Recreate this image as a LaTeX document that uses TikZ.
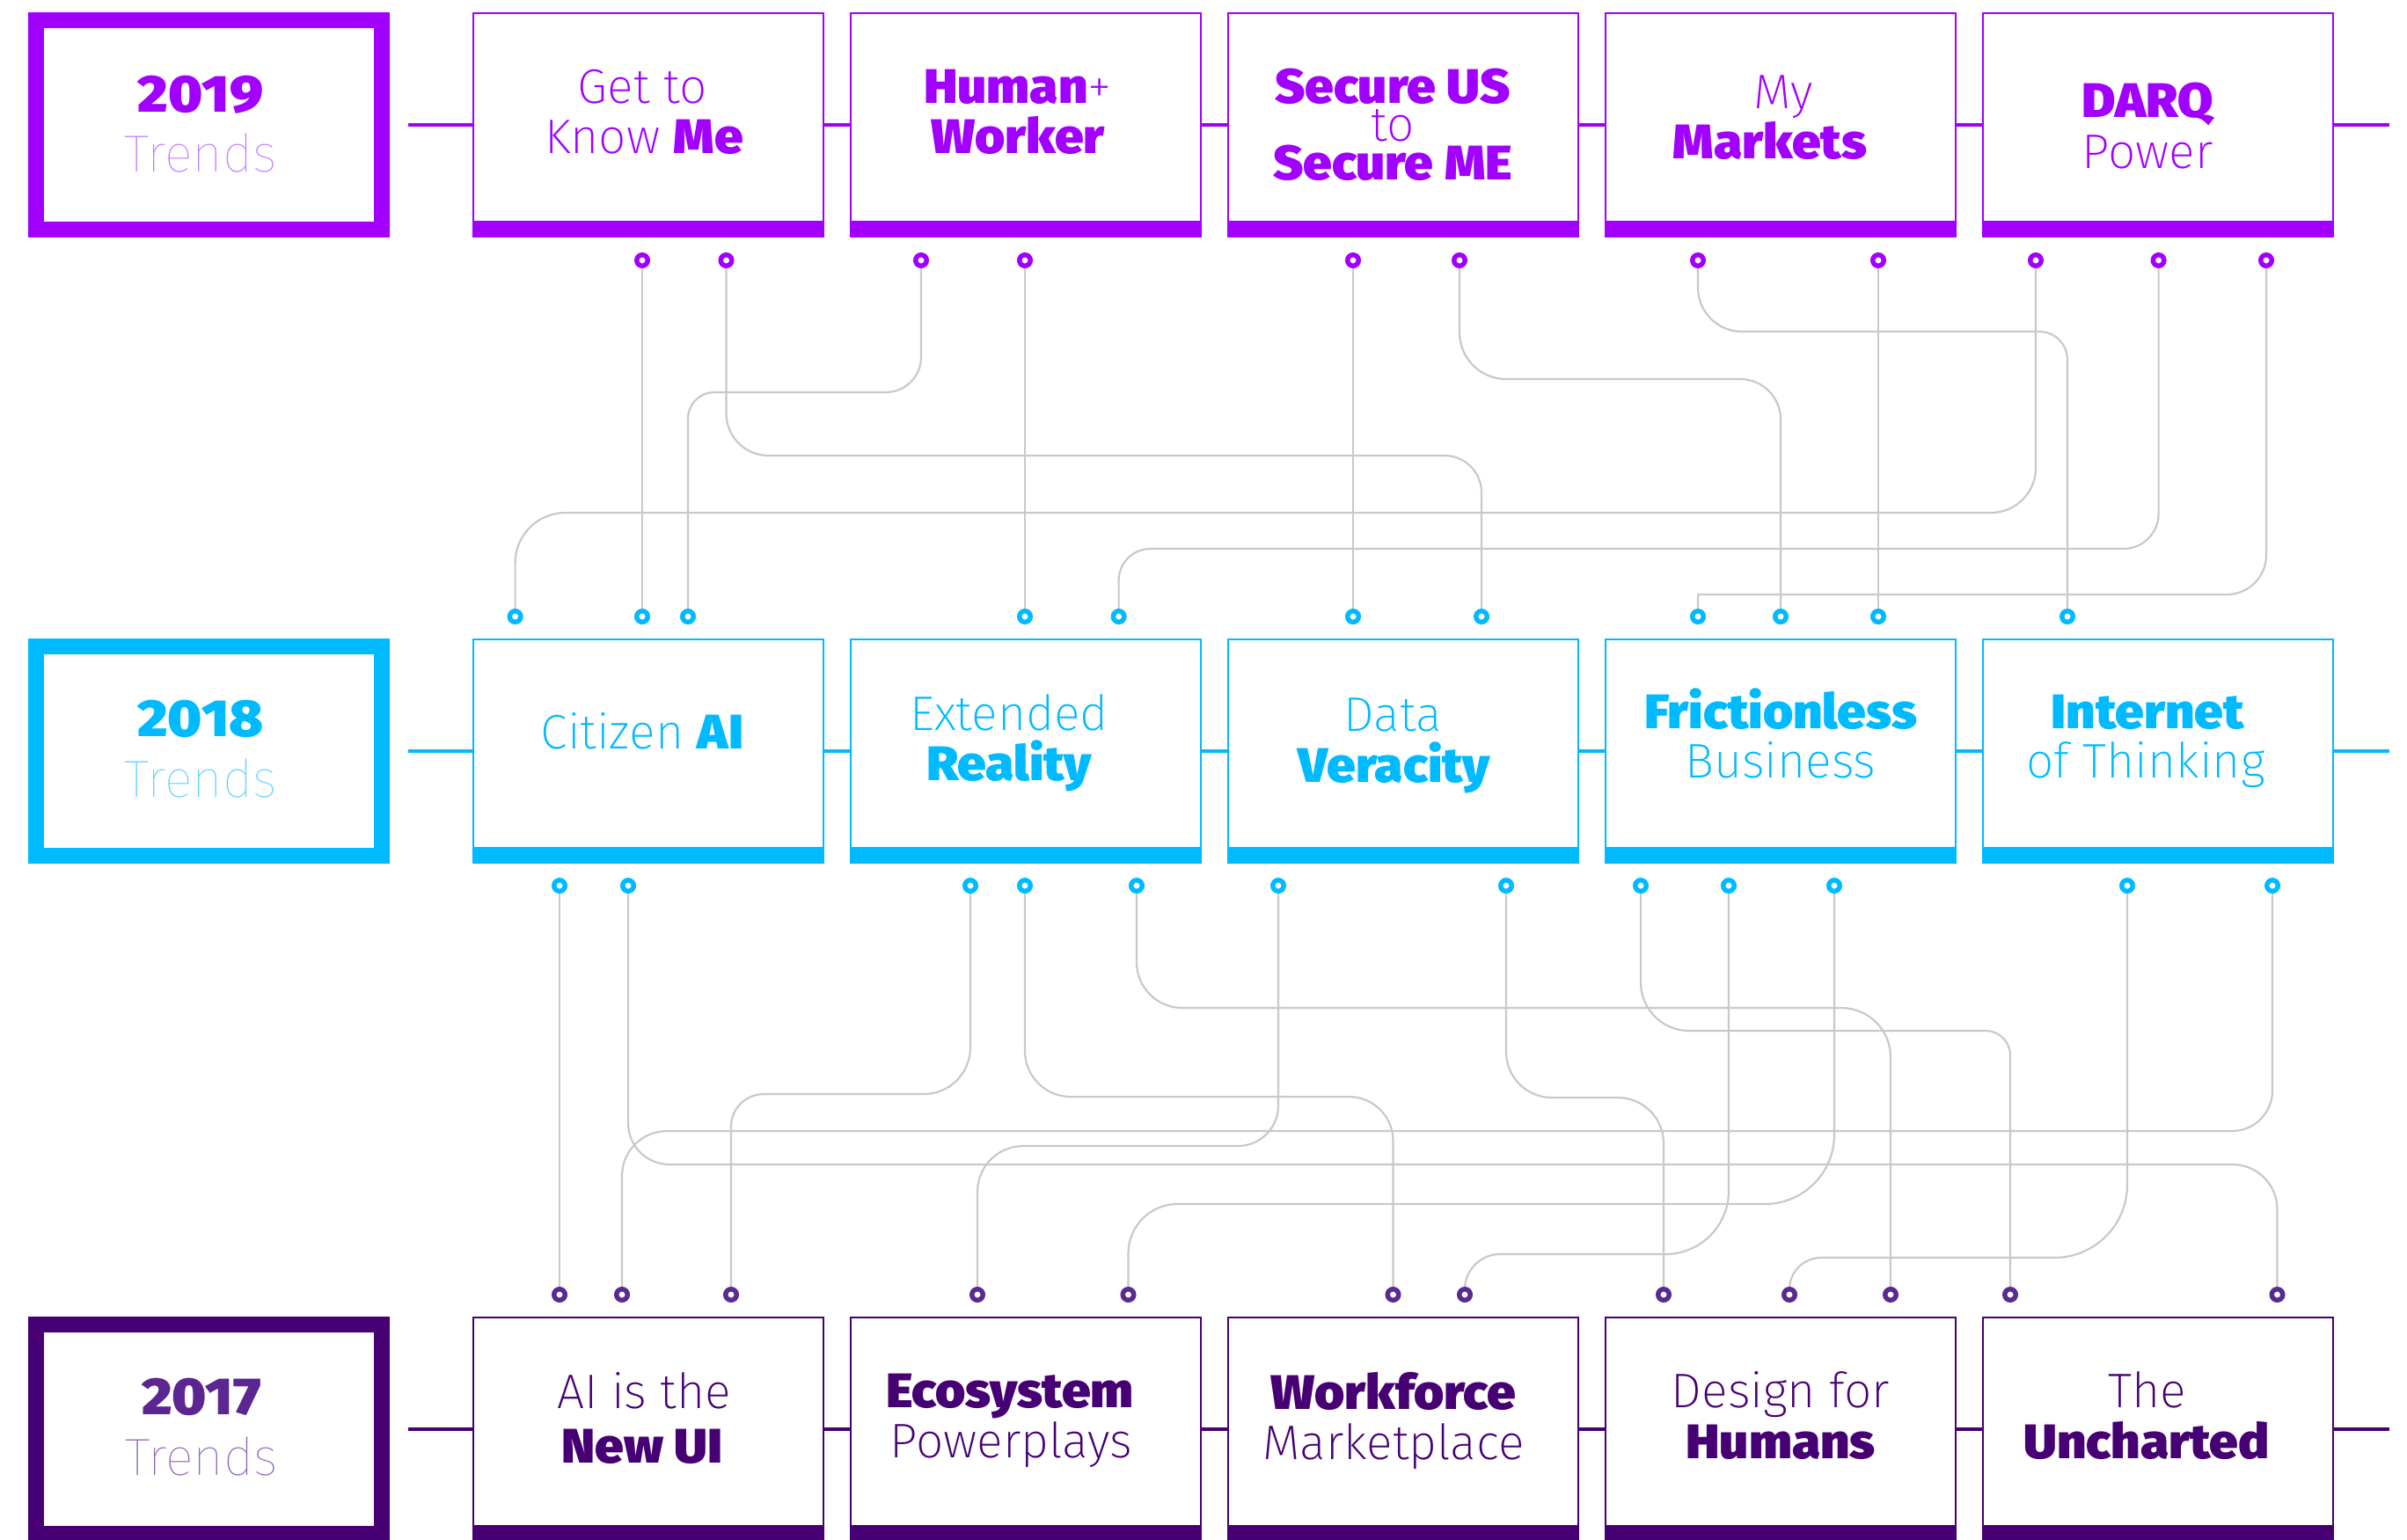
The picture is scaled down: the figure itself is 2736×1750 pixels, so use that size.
\documentclass[tikz,border=0pt]{standalone}
\usepackage{fontspec}
\newfontfamily\fxl{Fira Sans ExtraLight}
\newfontfamily\fthin{Fira Sans Thin}
\newfontfamily\fhv{Fira Sans Black}[FakeStretch=1.06]
\newfontfamily\fyr{Fira Sans Black}[FakeStretch=1.1]
\usetikzlibrary{calc}
\definecolor{p19}{HTML}{A100FF}
\definecolor{p19l}{HTML}{C07CFF}
\definecolor{c18}{HTML}{00BAFF}
\definecolor{c18l}{HTML}{5ED2FF}
\definecolor{d17}{HTML}{460073}
\definecolor{d17t}{HTML}{5B2592}
\definecolor{d17l}{HTML}{8E62B8}
\definecolor{d17dot}{HTML}{5A2A90}
\definecolor{wirec}{HTML}{C9C9C9}
\pgfdeclarelayer{bg}\pgfsetlayers{bg,main}
\newcommand\bsz{\fontsize{15.7}{16}\selectfont}
\newcommand\ysz{\fontsize{16.9}{17}\selectfont}
\tikzset{
  tx/.style={anchor=base, inner sep=0pt, outer sep=0pt, font=\bsz},
  yx/.style={anchor=base, inner sep=0pt, outer sep=0pt, font=\ysz},
  tbox/.style={draw=#1, fill=white, line width=0.02cm, minimum width=3.98cm,
    minimum height=2.54cm, inner sep=0pt, outer sep=0pt, anchor=north west},
  ybox/.style={draw=#1, fill=white, line width=0.18cm, minimum width=3.93cm,
    minimum height=2.38cm, inner sep=0pt, outer sep=0pt, anchor=north west},
  rowline/.style={draw=#1, line width=0.035cm},
  dotc/.style={circle, draw=#1, fill=white, line width=0.055cm, minimum size=0.125cm, inner sep=0pt},
  wire/.style={draw=wirec, line width=0.022cm},
}
\newcommand\trendbox[3]{% name, left x, top y, colour
  \node[tbox=#3] (#1) at (#2) {};
  \fill[#3] (#1.south west) rectangle ($(#1.south east)+(0,-18)$);
}
\newcommand\wire[7]{% src, xs, h, xt, tgt, r1, r2
  \pgfmathsetmacro\wDir{(#4>#2)?1:-1}
  \pgfmathsetmacro\wPa{#3-#6}
  \pgfmathsetmacro\wPb{#3-#6+0.5523*#6}
  \pgfmathsetmacro\wQa{#2+\wDir*(#6-0.5523*#6)}
  \pgfmathsetmacro\wQb{#2+\wDir*#6}
  \pgfmathsetmacro\wRa{#4-\wDir*#7}
  \pgfmathsetmacro\wRb{#4-\wDir*#7+\wDir*0.5523*#7}
  \pgfmathsetmacro\wSa{#3+#7-0.5523*#7}
  \pgfmathsetmacro\wSb{#3+#7}
  \draw[wire] (#1) -- (#2,\wPa) .. controls (#2,\wPb) and (\wQa,#3) .. (\wQb,#3)
    -- (\wRa,#3) .. controls (\wRb,#3) and (#4,\wSa) .. (#4,\wSb) -- (#5);
}
\begin{document}
\begin{tikzpicture}[x=0.01cm, y=-0.01cm]
\useasboundingbox (0,0) rectangle (2736,1750);
\begin{pgfonlayer}{bg}
\fill[white] (0,0) rectangle (2736,1750);
\end{pgfonlayer}

% row lines
\coordinate (l19s) at (464,142); \coordinate (l19e) at (2716,142);
\coordinate (l18s) at (464,854); \coordinate (l18e) at (2716,854);
\coordinate (l17s) at (464,1625); \coordinate (l17e) at (2716,1625);
\draw[rowline=p19] (l19s) -- (l19e);
\draw[rowline=c18] (l18s) -- (l18e);
\draw[rowline=d17] (l17s) -- (l17e);

% year boxes
\node[ybox=p19] (y19) at (41,23) {};
\node[ybox=c18] (y18) at (41,735) {};
\node[ybox=d17] (y17) at (41,1506) {};

% trend boxes
\trendbox{g1}{538,15}{p19}
\trendbox{g2}{967,15}{p19}
\trendbox{g3}{1396,15}{p19}
\trendbox{g4}{1825,15}{p19}
\trendbox{g5}{2254,15}{p19}
\trendbox{h1}{538,727}{c18}
\trendbox{h2}{967,727}{c18}
\trendbox{h3}{1396,727}{c18}
\trendbox{h4}{1825,727}{c18}
\trendbox{h5}{2254,727}{c18}
\trendbox{k1}{538,1498}{d17}
\trendbox{k2}{967,1498}{d17}
\trendbox{k3}{1396,1498}{d17}
\trendbox{k4}{1825,1498}{d17}
\trendbox{k5}{2254,1498}{d17}

% year texts
\node[yx, text=p19] (ty19a) at (228,127) {\fyr 2019};
\node[yx, text=p19l] (ty19b) at (228,195) {\fthin Trends};
\node[yx, text=c18] (ty18a) at (228,837) {\fyr 2018};
\node[yx, text=c18l] (ty18b) at (228,906) {\fthin Trends};
\node[yx, text=d17t] (ty17a) at (229,1608) {\fyr 2017};
\node[yx, text=d17l] (ty17b) at (229,1677) {\fthin Trends};

% 2019 texts
\node[tx, text=p19] (s1a) at (730,117) {\fxl Get to};
\node[tx, text=p19] (s1b) at (732,174) {\fxl Know \fhv Me};
\node[tx, text=p19] (s2a) at (1157,117) {\fhv Human\fxl +};
\node[tx, text=p19] (s2b) at (1157,174) {\fhv Worker};
\node[tx, text=p19] (s3a) at (1583,117) {\fhv Secure US};
\node[tx, text=p19] (s3b) at (1583,160) {\fxl to};
\node[tx, text=p19] (s3c) at (1583,204) {\fhv Secure ME};
\node[tx, text=p19] (s4a) at (2027,123) {\fxl My};
\node[tx, text=p19] (s4b) at (2012,180) {\fhv Markets};
\node[tx, text=p19] (s5a) at (2441,133) {\fhv DARQ};
\node[tx, text=p19] (s5b) at (2441,191) {\fxl Power};

% 2018 texts
\node[tx, text=c18] (u1a) at (730,851) {\fxl Citizen \fhv AI};
\node[tx, text=c18] (u2a) at (1147,830) {\fxl Extended};
\node[tx, text=c18] (u2b) at (1147,887) {\fhv Reality};
\node[tx, text=c18] (u3a) at (1583,831) {\fxl Data};
\node[tx, text=c18] (u3b) at (1585,889) {\fhv Veracity};
\node[tx, text=c18] (u4a) at (2024,828) {\fhv Frictionless};
\node[tx, text=c18] (u4b) at (2024,884) {\fxl Business};
\node[tx, text=c18] (u5a) at (2441,828) {\fhv Internet};
\node[tx, text=c18] (u5b) at (2439,884) {\fxl of Thinking};

% 2017 texts
\node[tx, text=d17] (v1a) at (732,1601) {\fxl AI is the};
\node[tx, text=d17] (v1b) at (730,1663) {\fhv New UI};
\node[tx, text=d17] (v2a) at (1148,1600) {\fhv Ecosystem};
\node[tx, text=d17] (v2b) at (1149,1657) {\fxl Powerplays};
\node[tx, text=d17] (v3a) at (1584,1602) {\fhv Workforce};
\node[tx, text=d17] (v3b) at (1584,1659) {\fxl Marketplace};
\node[tx, text=d17] (v4a) at (2024,1600) {\fxl Design for};
\node[tx, text=d17] (v4b) at (2024,1658) {\fhv Humans};
\node[tx, text=d17] (v5a) at (2441,1600) {\fxl The};
\node[tx, text=d17] (v5b) at (2440,1658) {\fhv Uncharted};

% dots
\foreach \n/\x in {1/730,2/825.5,3/1047,4/1165,5/1538,6/1659,7/1930,8/2135,9/2314,10/2453.6,11/2576}
  \node[dotc=p19] (a\n) at (\x,296) {};
\foreach \n/\x in {1/585.6,2/730,3/782,4/1165,5/1271.6,6/1538,7/1684,8/1930,9/2024,10/2135,11/2350}
  \node[dotc=c18] (b\n) at (\x,701) {};
\foreach \n/\x in {1/636,2/714,3/1103,4/1165,5/1292,6/1453,7/1712,8/1865,9/1965,10/2085,11/2418,12/2583}
  \node[dotc=c18] (c\n) at (\x,1007) {};
\foreach \n/\x in {1/636,2/707,3/831,4/1111,5/1282.5,6/1583.5,7/1665,8/1891,9/2034,10/2149,11/2285,12/2588.5}
  \node[dotc=d17dot] (d\n) at (\x,1472) {};

% connectors
\begin{pgfonlayer}{bg}
\draw[wire] (a1) -- (b2);
\draw[wire] (a4) -- (b4);
\draw[wire] (a5) -- (b6);
\draw[wire] (a8) -- (b10);
\draw[wire] (c1) -- (d1);
\wire{a2}{825.5}{518}{1684}{b7}{48}{42}
\wire{a3}{1047}{446}{782}{b3}{40}{30}
\wire{a6}{1659}{431}{2024}{b9}{53}{46}
\wire{a7}{1930}{377}{2350}{b11}{50}{32}
\wire{a9}{2314}{583}{585.6}{b1}{51}{57}
\wire{a10}{2453.6}{624}{1271.6}{b5}{40}{36}
\wire{a11}{2576}{676}{1930}{b8}{45}{0.01}
\wire{c2}{714}{1324}{2588.5}{d12}{47}{51}
\wire{c3}{1103}{1244}{831}{d3}{53}{37}
\wire{c4}{1165}{1247}{1583.5}{d6}{52}{50}
\wire{c5}{1292}{1146}{2149}{d10}{52}{56}
\wire{c6}{1453}{1303}{1111}{d4}{46}{52}
\wire{c7}{1712}{1248}{1891}{d8}{52}{52}
\wire{c8}{1865}{1172}{2285}{d11}{55}{28}
\wire{c9}{1965}{1426}{1665}{d7}{72}{40}
\wire{c10}{2085}{1369}{1282.5}{d5}{79}{56}
\wire{c11}{2418}{1430}{2034}{d9}{83}{36}
\wire{c12}{2583}{1286}{707}{d2}{46}{51}
\end{pgfonlayer}
\end{tikzpicture}
\end{document}
